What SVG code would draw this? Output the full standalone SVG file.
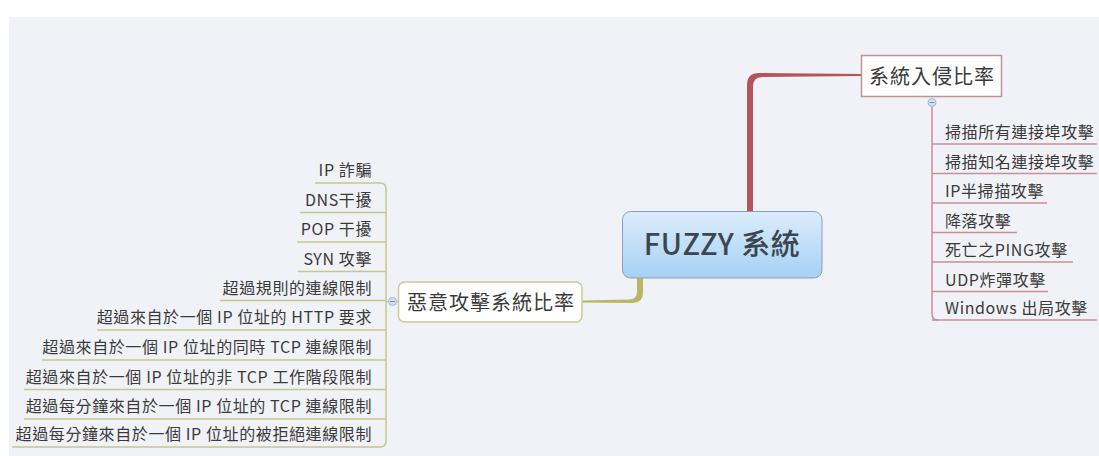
<svg xmlns="http://www.w3.org/2000/svg" width="1099" height="456" viewBox="0 0 1099 456">
<defs>
<linearGradient id="cg" x1="0" y1="0" x2="0" y2="1">
<stop offset="0" stop-color="#dcedfb"/>
<stop offset="1" stop-color="#a6d0f5"/>
</linearGradient>
<style>
.t{font-family:"Noto Sans CJK TC","Noto Sans",sans-serif;fill:#3a3a3a;font-size:16px;letter-spacing:0.6px}
.l{text-anchor:end}
.ol{stroke:#c6c68c;stroke-width:1.5;fill:none}
.rl{stroke:#c98f95;stroke-width:1.5;fill:none}
</style>
</defs>
<rect width="1099" height="456" fill="#ffffff"/>
<rect x="9" y="17" width="1090" height="439" fill="#f1f2f7"/>
<g id="connectors">
<path d="M747,212 L747,85 Q747,73 759,73 L862,74 L862,76 L762,77 Q753,77 753,87 L753,212 Z" fill="#b35559"/>
<path d="M637,278 L637,292 Q637,299 630,299.5 L582,300.5 L582,302.5 L632,303 Q643,303 643,292 L643,278 Z" fill="#b8b862"/>
<path class="rl" d="M932,107 L932,314 Q932,320 938,320"/>
<path class="rl" d="M932,144 H1097 M932,173.5 H1097 M932,203 H1047 M932,232.5 H1017 M932,262 H1073 M932,291.5 H1048 M932,320 H1097"/>
<path class="ol" d="M380,183 Q386,183 386,189 L386,441 Q386,447 380,447"/>
<path class="ol" d="M315,183 H380 M300,212.5 H386 M297,242 H386 M298,271.5 H386 M220,300.5 H386 M97,330 H386 M42,360 H386 M24,389.5 H386 M24,419 H386 M12,447 H380"/>
<line class="ol" x1="386" y1="301.5" x2="398" y2="301.5"/>
</g>
<g id="central">
<rect x="622.5" y="211.5" width="199.5" height="66.5" rx="8" fill="url(#cg)" stroke="#8aa0b8" stroke-width="1"/>
<text x="722" y="255" text-anchor="middle" font-family="'Noto Sans CJK TC','Noto Sans',sans-serif" font-size="29" font-weight="500" fill="#3c4650" letter-spacing="0.5">FUZZY 系統</text>
</g>
<g id="intrusion">
<rect x="861.5" y="55.5" width="140" height="41" fill="#ffffff" stroke="#c09497" stroke-width="1.5"/>
<text x="932" y="84" text-anchor="middle" font-family="'Noto Sans CJK TC',sans-serif" font-size="20" fill="#3a3a3a" letter-spacing="1">系統入侵比率</text>
<circle cx="932" cy="102.5" r="4" fill="#cfe1f5" stroke="#9db8d8" stroke-width="1"/>
<line x1="929.5" y1="102.5" x2="934.5" y2="102.5" stroke="#6f8fb5" stroke-width="1"/>
</g>
<g id="malicious">
<rect x="398.5" y="282" width="183.5" height="40" rx="6" fill="#ffffff" stroke="#cbcb95" stroke-width="1.5"/>
<text x="491" y="310" text-anchor="middle" font-family="'Noto Sans CJK TC',sans-serif" font-size="20" fill="#3a3a3a" letter-spacing="1">惡意攻擊系統比率</text>
<circle cx="392.5" cy="301.5" r="4" fill="#cfe1f5" stroke="#9db8d8" stroke-width="1"/>
<line x1="390" y1="301.5" x2="395" y2="301.5" stroke="#6f8fb5" stroke-width="1"/>
</g>
<g id="right-items">
<text class="t" x="945" y="138">掃描所有連接埠攻擊</text>
<text class="t" x="945" y="167.5">掃描知名連接埠攻擊</text>
<text class="t" x="945" y="197">IP半掃描攻擊</text>
<text class="t" x="945" y="226.5">降落攻擊</text>
<text class="t" x="945" y="256">死亡之PING攻擊</text>
<text class="t" x="945" y="285.5">UDP炸彈攻擊</text>
<text class="t" x="945" y="314">Windows 出局攻擊</text>
</g>
<g id="left-items">
<text class="t l" x="372" y="176">IP 詐騙</text>
<text class="t l" x="372" y="205.5">DNS干擾</text>
<text class="t l" x="372" y="235">POP 干擾</text>
<text class="t l" x="372" y="264.5">SYN 攻擊</text>
<text class="t l" x="372" y="293.5">超過規則的連線限制</text>
<text class="t l" x="372" y="323">超過來自於一個 IP 位址的 HTTP 要求</text>
<text class="t l" x="372" y="353">超過來自於一個 IP 位址的同時 TCP 連線限制</text>
<text class="t l" x="372" y="382.5">超過來自於一個 IP 位址的非 TCP 工作階段限制</text>
<text class="t l" x="372" y="412">超過每分鐘來自於一個 IP 位址的 TCP 連線限制</text>
<text class="t l" x="372" y="440">超過每分鐘來自於一個 IP 位址的被拒絕連線限制</text>
</g>
</svg>
